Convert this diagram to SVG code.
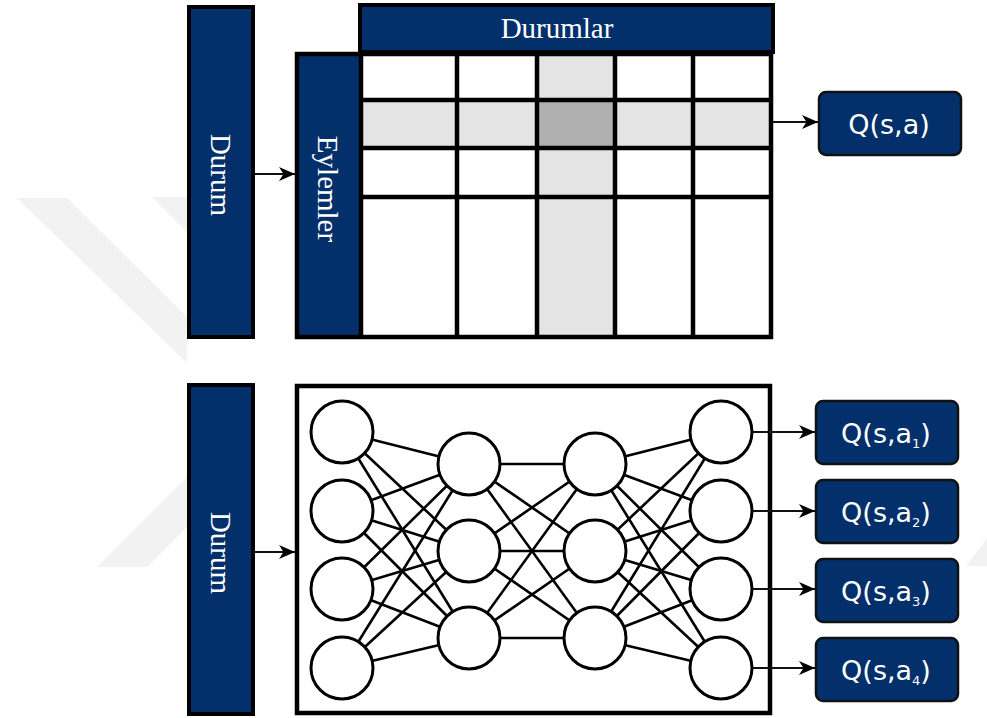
<svg xmlns="http://www.w3.org/2000/svg" width="987" height="718" viewBox="0 0 987 718">
<defs>
<style>
.navy{fill:#03306b;stroke:#000;stroke-width:4}
.qbox{fill:#03306b;stroke:#111;stroke-width:2.5}
.serif{font-family:"Liberation Serif","Times New Roman",serif;font-size:29px;fill:#fff}
.sans{font-family:"DejaVu Sans",Verdana,sans-serif;font-size:27px;fill:#fff;text-anchor:middle}
.grid{stroke:#000;stroke-width:4.5;fill:none}
.conn{stroke:#111;stroke-width:1.8;fill:none;marker-end:url(#arr)}
.edge{stroke:#000;stroke-width:2.6}
.node{fill:#fff;stroke:#000;stroke-width:3}
.wm{fill:#f2f2f2}
</style>
<marker id="arr" viewBox="0 0 16 14" refX="16" refY="7" markerWidth="16" markerHeight="14" markerUnits="userSpaceOnUse" orient="auto">
<path d="M0,0 L16,7 L0,14 L4.5,7 z" fill="#000"/>
</marker>
</defs>
<rect width="987" height="718" fill="#fff"/>
<g id="watermark">
<polygon class="wm" points="17,198 67,198 187,317 187,363"/>
<polygon class="wm" points="152,197 187,197 187,232"/>
<polygon class="wm" points="97,567 147,567 187,527 187,477"/>
<polygon class="wm" points="987,538 966,566 987,566"/>
</g>
<g id="durum-top">
<rect class="navy" x="189" y="7" width="64" height="330"/>
<text class="serif" text-anchor="middle" transform="translate(211,175) rotate(90)">Durum</text>
</g>
<g id="qtable">
<rect class="navy" x="360" y="5" width="413" height="47" stroke-width="3"/>
<text class="serif" x="557" y="38" text-anchor="middle">Durumlar</text>
<rect x="297" y="54" width="474" height="283" fill="#fff"/>
<rect x="297" y="54" width="64" height="283" fill="#03306b"/>
<rect x="361" y="100" width="412" height="48" fill="#e4e4e4"/>
<rect x="537" y="52" width="78" height="287" fill="#e4e4e4"/>
<rect x="537" y="100" width="78" height="48" fill="#b0b0b0"/>
<path class="grid" d="M361,52 V339 M457,52 V339 M537,52 V339 M615,52 V339 M693,52 V339 M361,100 H773 M361,148 H773 M361,197 H773"/>
<rect class="grid" x="297" y="54" width="474" height="283"/>
<text class="serif" text-anchor="middle" transform="translate(318,189) rotate(90)">Eylemler</text>
</g>
<g id="q-single">
<rect class="qbox" x="819" y="92" width="142" height="63" rx="7"/>
<text class="sans" x="889" y="134">Q(s,a)</text>
</g>
<g id="durum-bottom">
<rect class="navy" x="189" y="385" width="64" height="329"/>
<text class="serif" text-anchor="middle" transform="translate(211,553) rotate(90)">Durum</text>
</g>
<g id="network">
<rect class="grid" x="297" y="386" width="473" height="327" fill="#fff"/>
<g id="edges">
<line class="edge" x1="342" y1="432" x2="469" y2="464"/><line class="edge" x1="342" y1="432" x2="469" y2="551"/><line class="edge" x1="342" y1="432" x2="469" y2="638"/>
<line class="edge" x1="342" y1="511" x2="469" y2="464"/><line class="edge" x1="342" y1="511" x2="469" y2="551"/><line class="edge" x1="342" y1="511" x2="469" y2="638"/>
<line class="edge" x1="342" y1="589" x2="469" y2="464"/><line class="edge" x1="342" y1="589" x2="469" y2="551"/><line class="edge" x1="342" y1="589" x2="469" y2="638"/>
<line class="edge" x1="342" y1="668" x2="469" y2="464"/><line class="edge" x1="342" y1="668" x2="469" y2="551"/><line class="edge" x1="342" y1="668" x2="469" y2="638"/>
<line class="edge" x1="469" y1="464" x2="595" y2="464"/><line class="edge" x1="469" y1="464" x2="595" y2="551"/><line class="edge" x1="469" y1="464" x2="595" y2="638"/>
<line class="edge" x1="469" y1="551" x2="595" y2="464"/><line class="edge" x1="469" y1="551" x2="595" y2="551"/><line class="edge" x1="469" y1="551" x2="595" y2="638"/>
<line class="edge" x1="469" y1="638" x2="595" y2="464"/><line class="edge" x1="469" y1="638" x2="595" y2="551"/><line class="edge" x1="469" y1="638" x2="595" y2="638"/>
<line class="edge" x1="595" y1="464" x2="721" y2="432"/><line class="edge" x1="595" y1="464" x2="721" y2="511"/><line class="edge" x1="595" y1="464" x2="721" y2="589"/><line class="edge" x1="595" y1="464" x2="721" y2="668"/>
<line class="edge" x1="595" y1="551" x2="721" y2="432"/><line class="edge" x1="595" y1="551" x2="721" y2="511"/><line class="edge" x1="595" y1="551" x2="721" y2="589"/><line class="edge" x1="595" y1="551" x2="721" y2="668"/>
<line class="edge" x1="595" y1="638" x2="721" y2="432"/><line class="edge" x1="595" y1="638" x2="721" y2="511"/><line class="edge" x1="595" y1="638" x2="721" y2="589"/><line class="edge" x1="595" y1="638" x2="721" y2="668"/>
</g>
<g id="neurons">
<circle class="node" cx="342" cy="432" r="31"/><circle class="node" cx="342" cy="511" r="31"/><circle class="node" cx="342" cy="589" r="31"/><circle class="node" cx="342" cy="668" r="31"/>
<circle class="node" cx="469" cy="464" r="31"/><circle class="node" cx="469" cy="551" r="31"/><circle class="node" cx="469" cy="638" r="31"/>
<circle class="node" cx="595" cy="464" r="31"/><circle class="node" cx="595" cy="551" r="31"/><circle class="node" cx="595" cy="638" r="31"/>
<circle class="node" cx="721" cy="432" r="31"/><circle class="node" cx="721" cy="511" r="31"/><circle class="node" cx="721" cy="589" r="31"/><circle class="node" cx="721" cy="668" r="31"/>
</g>
</g>
<g id="q1"><rect class="qbox" x="816" y="401" width="142" height="63" rx="7"/><text class="sans" x="886" y="443">Q(s,a<tspan font-size="13" dy="5">1</tspan><tspan dy="-5">)</tspan></text></g>
<g id="q2"><rect class="qbox" x="816" y="480" width="142" height="63" rx="7"/><text class="sans" x="886" y="522">Q(s,a<tspan font-size="13" dy="5">2</tspan><tspan dy="-5">)</tspan></text></g>
<g id="q3"><rect class="qbox" x="816" y="559" width="142" height="63" rx="7"/><text class="sans" x="886" y="601">Q(s,a<tspan font-size="13" dy="5">3</tspan><tspan dy="-5">)</tspan></text></g>
<g id="q4"><rect class="qbox" x="816" y="638" width="142" height="63" rx="7"/><text class="sans" x="886" y="680">Q(s,a<tspan font-size="13" dy="5">4</tspan><tspan dy="-5">)</tspan></text></g>
<g id="connectors">
<line class="conn" x1="255" y1="174" x2="295" y2="174"/>
<line class="conn" x1="773" y1="122" x2="818" y2="122"/>
<line class="conn" x1="255" y1="552" x2="295" y2="552"/>
<line class="conn" x1="752" y1="432" x2="815" y2="432"/>
<line class="conn" x1="752" y1="511" x2="815" y2="511"/>
<line class="conn" x1="752" y1="589" x2="815" y2="589"/>
<line class="conn" x1="752" y1="668" x2="815" y2="668"/>
</g>
</svg>
